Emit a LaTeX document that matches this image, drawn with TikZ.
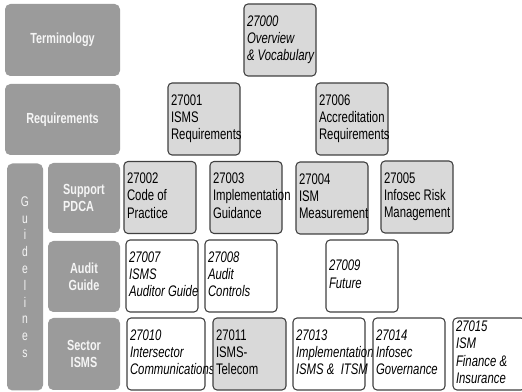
\documentclass[tikz,border=0pt]{standalone}
\usepackage{fontspec}
\setmainfont[FakeStretch=0.74]{Liberation Sans}
\definecolor{catgray}{RGB}{155,155,155}
\definecolor{docgray}{RGB}{217,217,217}
\newcommand{\cell}[2][49.5pt]{\makebox[#1][l]{\begin{tabular}{@{}l@{}}#2\end{tabular}}}

\begin{document}
\begin{tikzpicture}[
  x=0.75pt, y=-0.75pt,
  cat/.style={rectangle, rounded corners=4pt, fill=catgray, text=white!96!black, align=left, inner sep=0pt,
    font=\fontsize{11}{12.8}\selectfont\bfseries},
  doc/.style={rectangle, rounded corners=3pt, draw=black!75, line width=0.8pt, minimum height=54pt,
    minimum width=54pt, inner xsep=2.25pt, font=\fontsize{11.5}{13.1}\selectfont},
  std/.style={doc, fill=docgray},
  wht/.style={doc, fill=white},
  it/.style={font=\fontsize{11.5}{13.1}\selectfont\itshape}
]
  \clip (0,0) rectangle (522,392);

  \node[cat, minimum width=86.25pt, minimum height=54pt] (term) at (62.5,40) {Terminology};
  \node[cat, minimum width=86.25pt, minimum height=53.25pt] (req) at (62.5,119.5) {Requirements};
  \node[cat, minimum width=27pt, minimum height=170.25pt, align=center,
    font=\fontsize{10.5}{12.6}\selectfont] (guide) at (25,277) {G\\u\\i\\d\\e\\l\\i\\n\\e\\s};
  \node[cat, minimum width=54pt, minimum height=52.5pt] (pdca) at (84,198) {Support\\PDCA};
  \node[cat, minimum width=54pt, minimum height=53.25pt, align=center] (audit) at (84,276.5) {Audit\\Guide};
  \node[cat, minimum width=54pt, minimum height=54pt, align=center] (sector) at (84,354) {Sector\\ISMS};

  \node[std, it] (vocab) at (280,40) {\cell{27000\\Overview\\\& Vocabulary}};

  \node[std] (isms) at (204,119) {\cell{27001\\ISMS\\Requirements}};
  \node[std] (accr) at (352,119) {\cell{27006\\Accreditation\\Requirements}};

  \node[std] (code) at (160,197.5) {\cell{27002\\Code of\\Practice}};
  \node[std] (impl) at (246,197.5) {\cell{27003\\Implementation\\Guidance}};
  \node[std] (meas) at (332,198) {\cell{27004\\ISM\\Measurement}};
  \node[std] (risk) at (417,197) {\cell{27005\\Infosec Risk\\Management}};

  \node[wht, it] (auditor) at (162,276) {\cell{27007\\ISMS\\Auditor Guide}};
  \node[wht, it] (controls) at (241,276) {\cell{27008\\Audit\\Controls}};
  \node[wht, it] (future) at (362,276) {\cell{27009\\Future}};

  \node[wht, it] (inter) at (166,354) {\cell[54pt]{27010\\Intersector\\Communications}};
  \node[std] (telecom) at (249.5,354) {\cell[50.25pt]{27011\\ISMS-\\Telecom}};
  \node[wht, it] (itsm) at (329,354) {\cell{27013\\Implementation\\ISMS \&\ \ ITSM}};
  \node[wht, it] (gov) at (409,354) {\cell{27014\\Infosec\\Governance}};
  \node[wht, it, inner ysep=0pt, font=\fontsize{11.5}{12.9}\selectfont\itshape] (fin) at (489,354)
    {\cell{27015\\ISM\\Finance \&\\Insurance}};
\end{tikzpicture}
\end{document}
